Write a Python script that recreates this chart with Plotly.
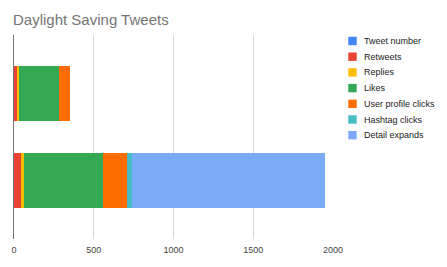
import plotly.graph_objects as go

tweets = ["Tweet 1", "Tweet 2"]
series_names = ["Tweet number", "Retweets", "Replies", "Likes",
                "User profile clicks", "Hashtag clicks", "Detail expands"]
tweet_number = [1, 2]
retweets = [18, 39]
replies = [12, 22]
likes = [253, 492]
user_profile_clicks = [68, 151]
hashtag_clicks = [0, 31]
detail_expands = [0, 1210]
colors = ["#4285F4", "#EA4335", "#FBBC04", "#34A853", "#FF6D01", "#46BDC6", "#7BAAF7"]
x_ticks = [0, 500, 1000, 1500, 2000]

values = [tweet_number, retweets, replies, likes, user_profile_clicks,
          hashtag_clicks, detail_expands]

W, H = 447, 267
ML, MR, MT, MB = 14, 114, 35, 28
PW, PH = W - ML - MR, H - MT - MB
FONT = "Liberation Sans, Arial, sans-serif"

def px_x(px):
    return (px - ML) / PW

def px_y(py):
    return (H - MB - py) / PH

fig = go.Figure()
for name, vals, col in zip(series_names, values, colors):
    fig.add_trace(go.Bar(y=tweets, x=vals, name=name, orientation="h",
                         marker=dict(color=col, line=dict(width=0)), showlegend=False))

# legend built from the series names / colours
shapes, annots = [], []
for i, (name, col) in enumerate(zip(series_names, colors)):
    cy = 41 + 15.7 * i
    shapes.append(dict(type="rect", xref="paper", yref="paper",
                       x0=px_x(348.3), x1=px_x(356.7), y0=px_y(cy + 4.2), y1=px_y(cy - 4.2),
                       fillcolor=col, line=dict(width=0)))
    annots.append(dict(text=name, xref="paper", yref="paper", x=px_x(362), y=px_y(cy),
                       xanchor="left", yanchor="middle", showarrow=False,
                       font=dict(family=FONT, size=9, color="#222")))

fig.update_layout(
    width=W, height=H,
    barmode="stack", bargap=0.36,
    paper_bgcolor="white", plot_bgcolor="white",
    margin=dict(l=ML, r=MR, t=MT, b=MB, autoexpand=False),
    title=dict(text="Daylight Saving Tweets", x=13 / W, xref="container", xanchor="left",
               y=(H - 20) / H, yref="container", yanchor="middle",
               font=dict(family=FONT, size=15, color="#757575")),
    font=dict(family=FONT, size=9, color="#444"),
    xaxis=dict(range=[0, 2000], tickvals=x_ticks, showgrid=True, gridcolor="#d9d9d9",
               zeroline=False, ticks="", tickfont=dict(size=9, color="#444"),
               ticklabelstandoff=4),
    yaxis=dict(type="category", range=[1.67, -0.67], showticklabels=False,
               showline=True, linecolor="#777", linewidth=1, ticks="", showgrid=False),
    shapes=shapes, annotations=annots,
)
fig.write_html("out.html")
